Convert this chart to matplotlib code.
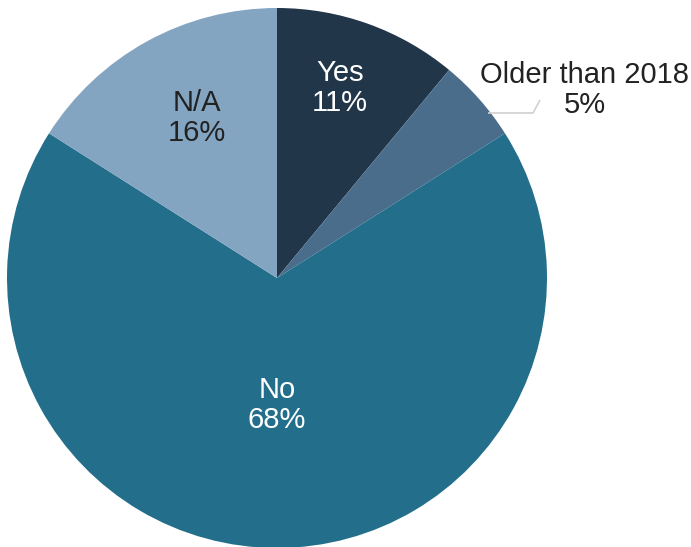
import matplotlib.pyplot as plt

plt.rcParams['font.family'] = ['Liberation Sans', 'DejaVu Sans']

# 슬라이스 데이터 (12시 방향부터 시계방향)
labels = ["Yes", "Older than 2018", "No", "N/A"]
values = [11, 5, 68, 16]
colors = ["#22364a", "#4a6d8c", "#236e8a", "#84a5c2"]
text_colors = ["white", "#222222", "white", "#222222"]

W, H = 691, 547
CX, CY, R = 277, 278, 270  # 픽셀 기준 중심/반지름

fig = plt.figure(figsize=(W / 100, H / 100), dpi=100)
ax = fig.add_axes([0, 0, 1, 1])

wedges, _ = ax.pie(values, colors=colors, startangle=90, counterclock=False,
                   radius=1, wedgeprops=dict(linewidth=0))

ax.set_xlim(-CX / R, (W - CX) / R)
ax.set_ylim(-(H - CY) / R, CY / R)
ax.set_aspect('auto')
ax.axis('off')


def px(x, y):
    # 픽셀 좌표 -> 데이터 좌표
    return (x - CX) / R, (CY - y) / R


# 라벨 위치 (픽셀)
label_pos = [(340, 88), (585, 90), (277, 405), (197, 118)]
for lab, v, tc, (x, y) in zip(labels, values, text_colors, label_pos):
    dx, dy = px(x, y)
    ax.text(dx, dy, f"{lab}\n{v}%", ha='center', va='center', color=tc,
            fontsize=21, linespacing=1.1)

# 바깥 라벨 지시선
lx, ly = zip(px(540, 100), px(533, 113), px(488, 113))
ax.plot(lx, ly, color="#d0d0d0", lw=1.2, solid_capstyle='butt')

fig.savefig("out.png", dpi=100)
